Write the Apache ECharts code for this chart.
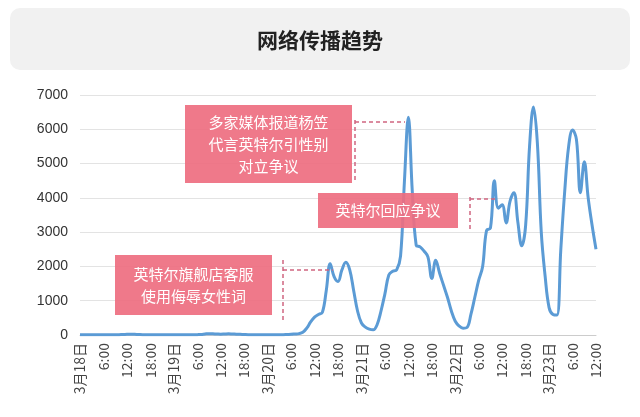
<!DOCTYPE html>
<html><head><meta charset="utf-8">
<script src="https://cdn.jsdelivr.net/npm/echarts@6/dist/echarts.min.js"></script>
<style>html,body{margin:0;padding:0;background:#fff}#c{width:640px;height:417px}</style>
</head><body><div id="c"></div>
<script>
const dayLabels = ['3月18日','3月19日','3月20日','3月21日','3月22日','3月23日'];
const hourLabels = ['', '6:00', '12:00', '18:00'];
const values = [
5,5,5,5,5,5,5,5,5,5,
10,15,20,25,20,15,10,10,10,10,
10,10,5,5,5,5,5,5,5,5,
10,15,30,40,35,30,25,30,35,30,
25,20,15,10,10,10,10,10,10,10,
10,10,10,15,20,30,40,80,200,380,
520,600,660,1300,2080,1700,1560,1900,2120,1900,
1300,700,350,230,170,150,300,700,1200,1750,
1860,1900,2300,4500,6350,4200,2620,2570,2450,2280,
1650,2180,1800,1450,1100,700,400,260,200,220,
600,1100,1600,2000,3050,3120,4500,3700,3800,3270,
3900,4150,3300,2600,3200,5500,6650,5600,3000,1700,
800,600,580,2500,4200,5500,5980,5700,4150,5050,
4000,3200,2500
];
const categories = values.map((v,i)=>{const d=Math.floor(i/24),h=i%24;return h===0?dayLabels[d]:(h%6===0?hourLabels[h/6]:h+':00');});
const notes = [
  {text:'多家媒体报道杨笠\n代言英特尔引性别\n对立争议', box:[185,105,167,78], v:[355,120,183], h:[122,355,405]},
  {text:'英特尔回应争议', box:[318,193,140,35], v:[470,197,230], h:[199,470,497]},
  {text:'英特尔旗舰店客服\n使用侮辱女性词', box:[115,255,157,60], v:[283,260,320], h:[270,283,333]}
];
const graphics = [
  {type:'rect',shape:{x:10,y:8,width:620,height:62,r:10},style:{fill:'#f1f1f1'},z:0},
  {type:'text',x:320,y:40,style:{text:'网络传播趋势',fill:'#222',font:'bold 21px "Noto Sans CJK SC"',textAlign:'center',textVerticalAlign:'middle'}}
];
notes.forEach(n=>{
  graphics.push({type:'line',shape:{x1:n.v[0],y1:n.v[1],x2:n.v[0],y2:n.v[2]},style:{stroke:'#d06680',lineWidth:1.5,lineDash:[4,3]},z:5});
  graphics.push({type:'line',shape:{x1:n.h[1],y1:n.h[0],x2:n.h[2],y2:n.h[0]},style:{stroke:'#d06680',lineWidth:1.5,lineDash:[4,3]},z:5});
  graphics.push({type:'rect',shape:{x:n.box[0],y:n.box[1],width:n.box[2],height:n.box[3]},style:{fill:'rgba(238,110,128,0.92)'},z:10});
  graphics.push({type:'text',x:n.box[0]+n.box[2]/2,y:n.box[1]+n.box[3]/2,style:{text:n.text,fill:'#fff',font:'15px "Noto Sans CJK SC"',lineHeight:22,textAlign:'center',textVerticalAlign:'middle'},z:11});
});
const chart = echarts.init(document.getElementById('c'));
chart.setOption({
  animation:false,
  grid:{left:80,right:44,top:95,bottom:82},
  xAxis:{type:'category',data:categories,boundaryGap:false,
    axisLine:{lineStyle:{color:'#ccc'}},axisTick:{show:false},
    axisLabel:{interval:5,rotate:90,color:'#444',fontSize:14,fontFamily:'Noto Sans CJK SC',margin:8}},
  yAxis:{type:'value',min:0,max:7000,interval:1000,
    axisLabel:{color:'#333',fontSize:14,margin:12,formatter:v=>String(v)},
    splitLine:{lineStyle:{color:'#e3e3e3'}},axisLine:{show:false}},
  series:[{type:'line',data:values,smooth:0.4,showSymbol:false,lineStyle:{color:'#5b9bd5',width:3}}],
  graphic:graphics
});
</script></body></html>
